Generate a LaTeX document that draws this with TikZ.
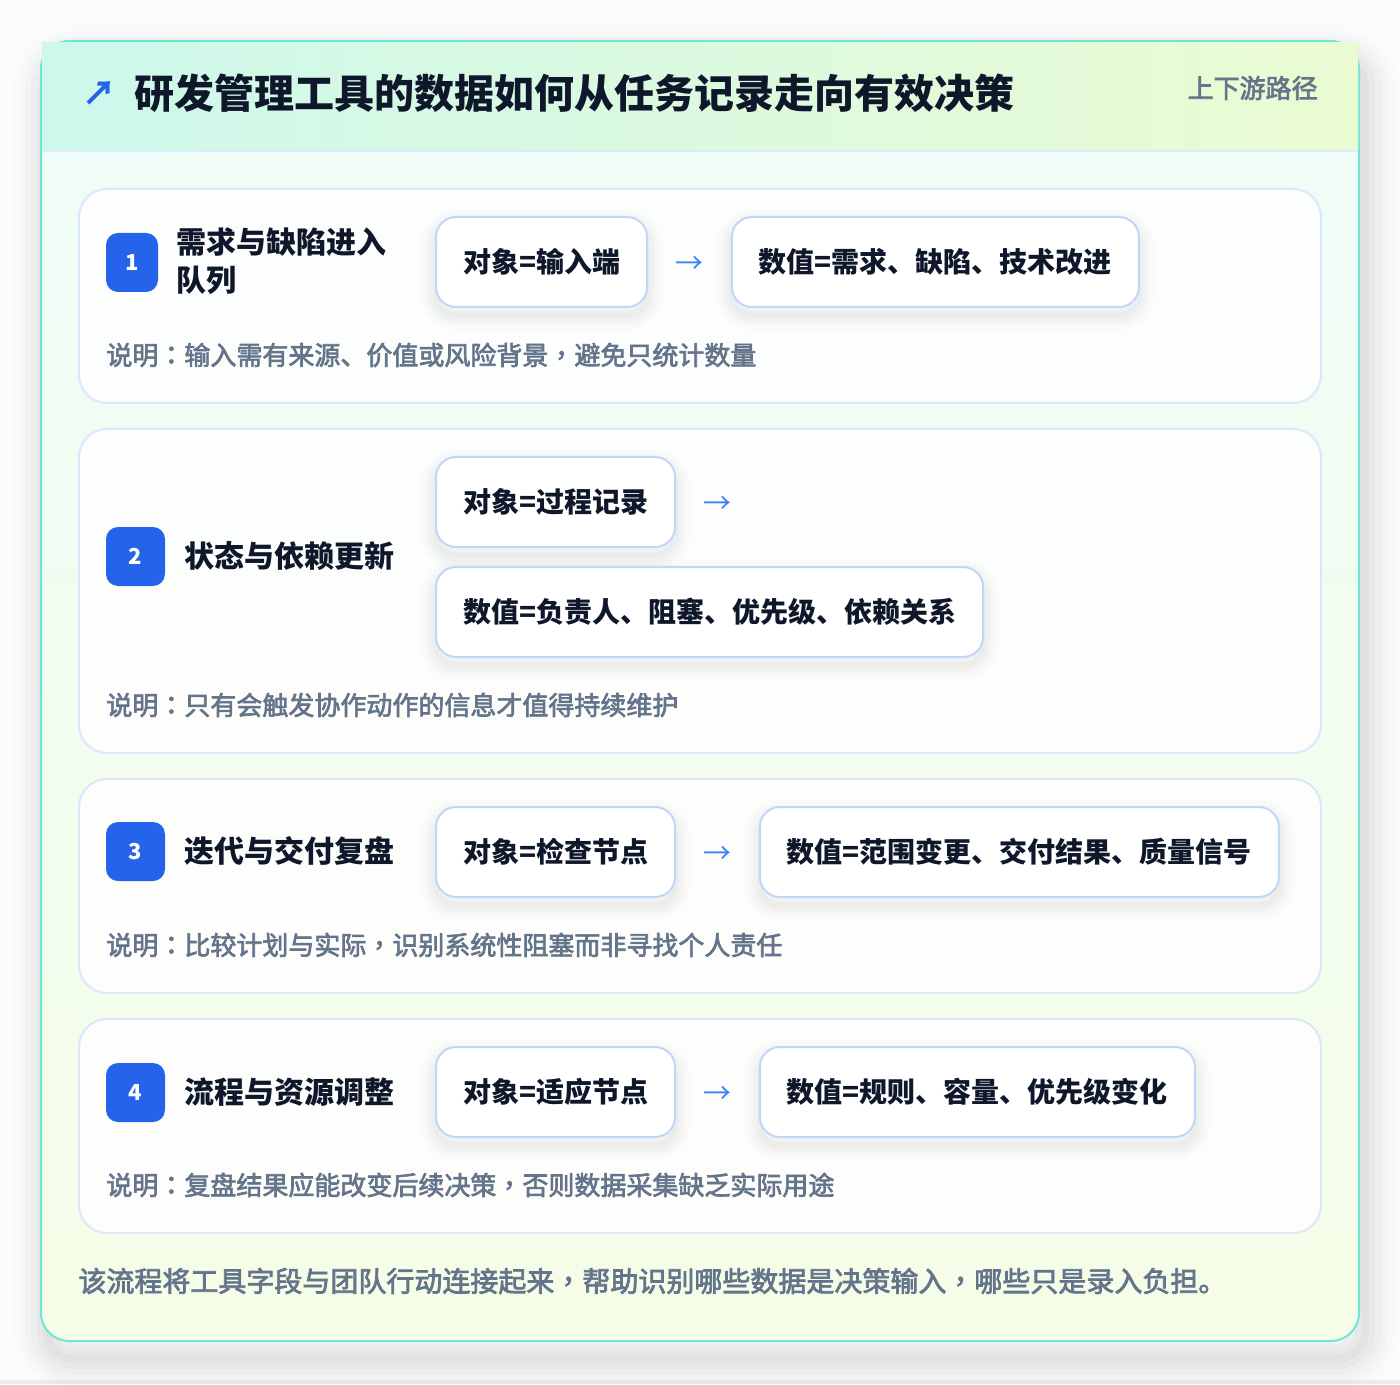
\documentclass[tikz,border=0pt]{standalone}
\usepackage{fontspec}
\setmainfont{Noto Sans CJK SC}
\newfontfamily\medf{Noto Sans CJK SC}[FakeBold=2.6]
\newfontfamily\medtcf{Noto Sans CJK TC}[FakeBold=2.6]
\newcommand\pc{{\medtcf ，}}
\newcommand\pcol{{\medtcf ：}}
\usetikzlibrary{positioning}
\definecolor{pagebg}{HTML}{FCFCFC}
\definecolor{hdrL}{HTML}{CDF8EC}
\definecolor{hdrR}{HTML}{EAFBD2}
\definecolor{bodyT}{HTML}{EFFCF8}
\definecolor{bodyB}{HTML}{F5FDE8}
\definecolor{mainborder}{HTML}{6EE7D2}
\definecolor{sepline}{HTML}{DCEBFB}
\definecolor{cardborder}{HTML}{DBE7FB}
\definecolor{boxborder}{HTML}{BFD7F8}
\definecolor{badgeblue}{HTML}{2563EB}
\definecolor{ink}{HTML}{0F172A}
\definecolor{muted}{HTML}{64748B}
\definecolor{arrowblue}{HTML}{3B82F6}
\tikzset{
  shadowring/.style n args={3}{preaction={draw=black, fill=none, draw opacity=#2, line width=#1,
    transform canvas={yshift=-#3}}},
  boxshadow/.style={shadowring={3pt}{0.02}{4pt}, shadowring={7pt}{0.018}{4pt},
    shadowring={11pt}{0.014}{4pt}, shadowring={15pt}{0.01}{4pt}},
  card/.style={draw=cardborder, line width=1pt, fill=white, fill opacity=0.85, rounded corners=14pt},
  valbox/.style={draw=boxborder, line width=1pt, fill=white, rounded corners=10pt,
    minimum height=45pt, inner xsep=13.5pt, inner ysep=0pt, text=ink,
    font=\bfseries\fontsize{14pt}{16pt}\selectfont, boxshadow},
  badge/.style={fill=badgeblue, rounded corners=6pt, text=white, inner sep=0pt,
    minimum height=29.5pt, font=\bfseries\fontsize{11pt}{13pt}\selectfont},
  lbl/.style={anchor=west, inner sep=0pt, text=ink, align=left,
    font=\bfseries\fontsize{15pt}{19pt}\selectfont},
  note/.style={anchor=west, inner sep=0pt, text=muted,
    font=\medf\fontsize{13pt}{15pt}\selectfont},
  flowarrow/.style={inner sep=0pt, text=arrowblue, yshift=-1.5pt, font=\fontsize{14pt}{16pt}\selectfont},
}
\begin{document}
\begin{tikzpicture}[x=0.5pt,y=-0.5pt]
\useasboundingbox (0,0) rectangle (1400,1384);
\fill[pagebg] (0,0) rectangle (1400,1384);
\fill[black!7] (0,1380) rectangle (1400,1384);
% main card soft shadow
\begin{scope}[transform canvas={xshift=3pt, yshift=-9pt}]
\foreach \w/\o in {4pt/0.025, 10pt/0.022, 16pt/0.02, 22pt/0.016, 28pt/0.012, 34pt/0.008}
  \draw[black, draw opacity=\o, line width=\w, rounded corners=14pt] (41,41) rectangle (1359,1341);
\end{scope}
\shade[rounded corners=14pt, top color=bodyT, bottom color=bodyB] (41,41) rectangle (1359,1341);
\draw[mainborder, line width=1pt, rounded corners=14pt] (41,41) rectangle (1359,1341);
% header band (square corners, drawn over the border)
\shade[left color=hdrL, right color=hdrR] (42,42.5) rectangle (1358,151);
\draw[sepline, line width=1pt] (42,151) -- (1358,151);
% title
\node[anchor=center, inner sep=0pt, text=badgeblue, font=\bfseries\fontsize{17pt}{19pt}\selectfont] (ticon) at (99,93) {↗};
\node[anchor=west, inner sep=0pt, text=ink, font=\bfseries\fontsize{20pt}{24pt}\selectfont] (title) at (134,93) {研发管理工具的数据如何从任务记录走向有效决策};
\node[anchor=east, inner sep=0pt, text=muted, font=\medf\fontsize{13pt}{15pt}\selectfont] (tag) at (1318,88) {上下游路径};

% ---- card 1
\path[card] (79,189) rectangle (1321,403);
\node[badge, minimum width=26pt] (b1) at (132,262.5) {1};
\node[lbl] (l1) at (176,261) {需求与缺陷进入\\队列};
\node[valbox, anchor=west] (a1) at (435,262) {对象=输入端};
\node[flowarrow, right=13.5pt of a1] (r1) {→};
\node[valbox, right=13.5pt of r1, yshift=1.5pt] (v1) {数值=需求、缺陷、技术改进};
\node[note] (n1) at (106,355) {说明\pcol 输入需有来源、价值或风险背景\pc 避免只统计数量};

% ---- card 2
\path[card] (79,429) rectangle (1321,753);
\node[badge, minimum width=29.5pt] (b2) at (135.5,556.5) {2};
\node[lbl] (l2) at (184,556) {状态与依赖更新};
\node[valbox, anchor=west] (a2) at (435,502) {对象=过程记录};
\node[flowarrow, right=13.5pt of a2] (r2) {→};
\node[valbox, anchor=west] (v2) at (435,612) {数值=负责人、阻塞、优先级、依赖关系};
\node[note] (n2) at (106,705) {说明\pcol 只有会触发协作动作的信息才值得持续维护};

% ---- card 3
\path[card] (79,779) rectangle (1321,993);
\node[badge, minimum width=29.5pt] (b3) at (135.5,851.5) {3};
\node[lbl] (l3) at (184,851) {迭代与交付复盘};
\node[valbox, anchor=west] (a3) at (435,852) {对象=检查节点};
\node[flowarrow, right=13.5pt of a3] (r3) {→};
\node[valbox, right=13.5pt of r3, yshift=1.5pt] (v3) {数值=范围变更、交付结果、质量信号};
\node[note] (n3) at (106,945) {说明\pcol 比较计划与实际\pc 识别系统性阻塞而非寻找个人责任};

% ---- card 4
\path[card] (79,1019) rectangle (1321,1233);
\node[badge, minimum width=29.5pt] (b4) at (135.5,1092.5) {4};
\node[lbl] (l4) at (184,1092) {流程与资源调整};
\node[valbox, anchor=west] (a4) at (435,1092) {对象=适应节点};
\node[flowarrow, right=13.5pt of a4] (r4) {→};
\node[valbox, right=13.5pt of r4, yshift=1.5pt] (v4) {数值=规则、容量、优先级变化};
\node[note] (n4) at (106,1185) {说明\pcol 复盘结果应能改变后续决策\pc 否则数据采集缺乏实际用途};

% footer
\node[anchor=west, inner sep=0pt, text=muted, font=\medf\fontsize{14pt}{16pt}\selectfont] (foot) at (78,1281) {该流程将工具字段与团队行动连接起来\pc 帮助识别哪些数据是决策输入\pc 哪些只是录入负担。};
\end{tikzpicture}
\end{document}
